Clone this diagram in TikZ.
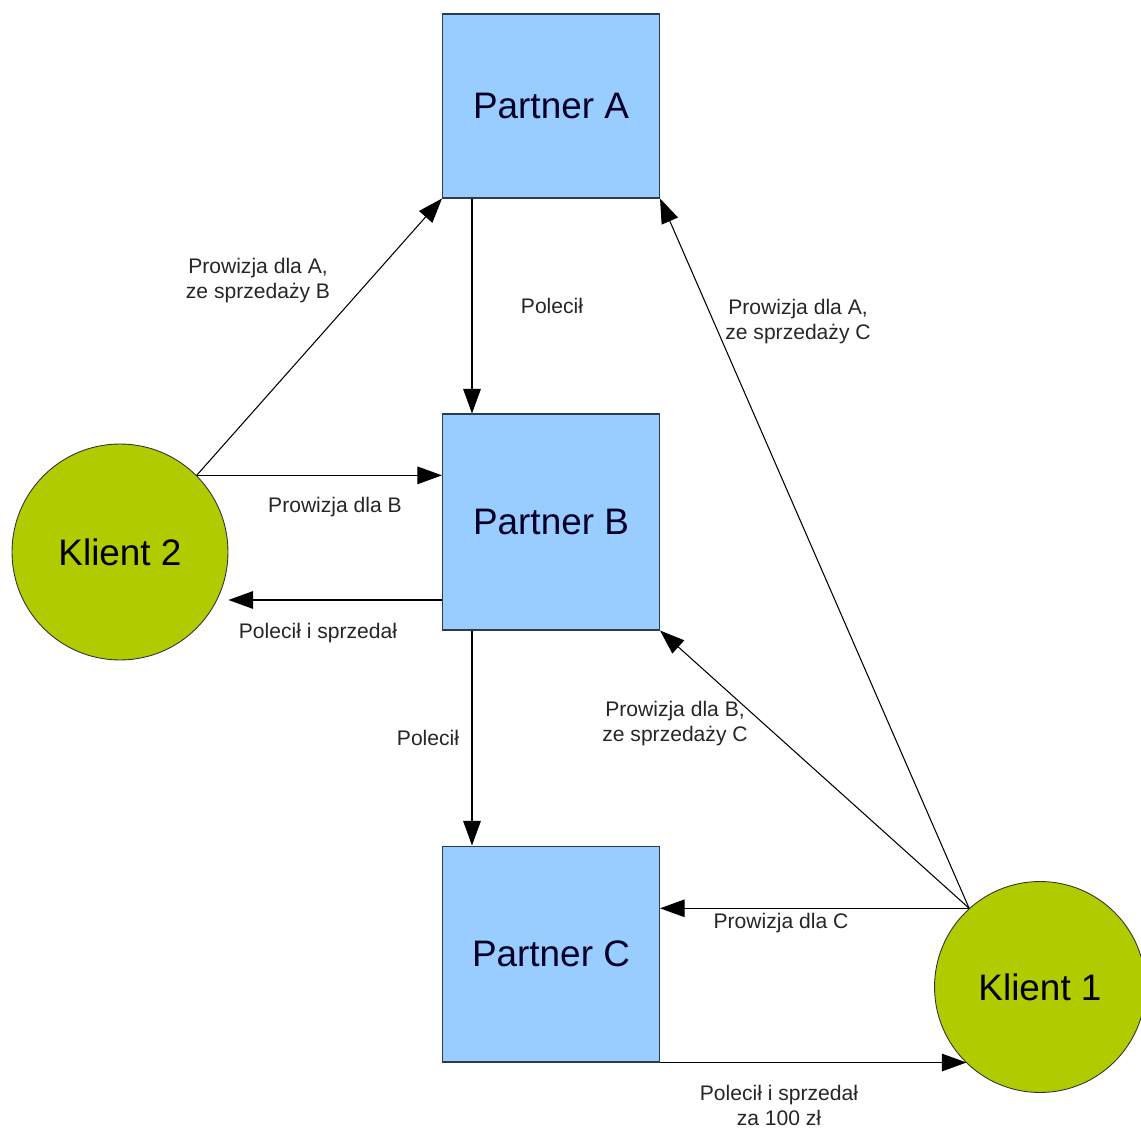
\documentclass[tikz,border=0pt]{standalone}
\usepackage{fontspec}
\setmainfont{Liberation Sans}
\usepackage{xcolor}
\usepackage{tikz}
\usetikzlibrary{arrows.meta, calc}
\definecolor{partnerfill}{HTML}{99CCFF}
\definecolor{partnerline}{HTML}{2B3A55}
\definecolor{klientfill}{HTML}{B0CC00}
\tikzset{
  partner/.style={rectangle, draw=partnerline, fill=partnerfill, line width=0.6pt,
                  minimum width=4.34cm, minimum height=4.32cm,
                  font=\fontsize{21}{25}\selectfont, text=black!85!blue},
  klient/.style={circle, draw=black!80, fill=klientfill, line width=0.5pt,
                 minimum size=4.32cm, inner sep=0pt, font=\fontsize{21}{25}\selectfont},
  arrow/.style={-{Triangle[length=14pt,width=10pt]}, line width=0.6pt}
}

\begin{document}
\begin{tikzpicture}[x=0.02cm, y=-0.02cm,
    note/.style={font=\fontsize{12}{14.2}\selectfont, align=center, inner sep=1pt,
                 text=black!85}
  ]
  \useasboundingbox (0,0) rectangle (1141,1128);

  % Partners
  \node[partner, minimum height=3.68cm] (A) at (551,106) {Partner A};
  \node[partner] (B) at (551,522) {Partner B};
  \node[partner] (C) at (551,954) {Partner C};

  % Clients
  \node[klient] (K2) at (120,552) {Klient 2};
  \node[klient, minimum size=4.22cm] (K1) at (1040,987) {Klient 1};

  % Referrals down the chain
  \draw[arrow] ([xshift=0.6cm]A.south west) -- ([xshift=0.6cm]B.north west);
  \draw[arrow] ([xshift=0.6cm]B.south west) -- ([xshift=0.6cm]C.north west);

  % Klient 2
  \draw[arrow] (K2.45) -- (A.south west);
  \draw[arrow] (K2.45) -- (K2.45 -| B.west);
  \draw[arrow] ([yshift=-1.56cm]B.west) coordinate (b1) -- (b1 -| K2.east);

  % Klient 1
  \draw[arrow] (K1.132) -- (A.south east);
  \draw[arrow] (K1.132) -- (B.south east);
  \draw[arrow] (K1.132) -- (K1.132 -| C.east);
  \draw[arrow] (C.south east) -- (C.south east -| K1.226);

  % Labels
  \node[note] (lA2) at (258,281) {Prowizja dla A,\\ze sprzedaży B};
  \node[note] (lB2) at (335,507) {Prowizja dla B};
  \node[note] (lS2) at (318,633) {Polecił i sprzedał};
  \node[note] (lAB) at (552,306) {Polecił};
  \node[note] (lBC) at (428,738) {Polecił};
  \node[note] (lA1) at (798,322) {Prowizja dla A,\\ze sprzedaży C};
  \node[note] (lB1) at (675,724) {Prowizja dla B,\\ze sprzedaży C};
  \node[note] (lC1) at (781,923) {Prowizja dla C};
  \node[note] (lS1) at (779,1105) {Polecił i sprzedał\\za 100 zł};
\end{tikzpicture}
\end{document}
